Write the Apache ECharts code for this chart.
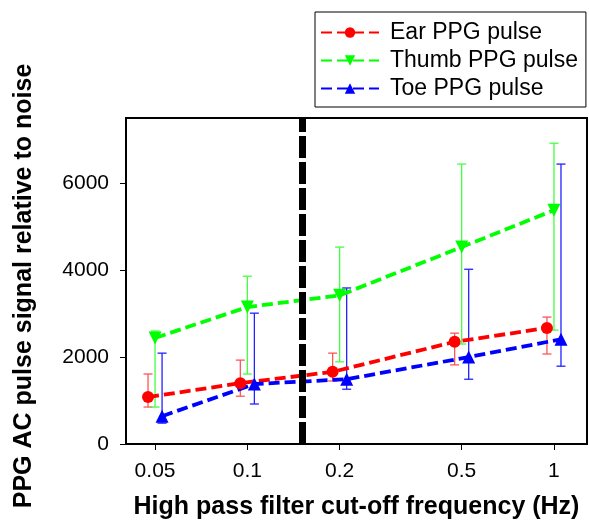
<!DOCTYPE html>
<html>
<head>
<meta charset="utf-8">
<script src="https://cdn.jsdelivr.net/npm/echarts@6/dist/echarts.min.js"></script>
<style>html,body{margin:0;padding:0;background:#fff;}#c{width:589px;height:525px;}</style>
</head>
<body>
<div id="c"></div>
<script>
// ---- data ----
const freqs = [0.05, 0.1, 0.2, 0.5, 1];
const tickLabels = ['0.05', '0.1', '0.2', '0.5', '1'];
const yTicks = [0, 2000, 4000, 6000];
const cutoff = 0.15;

const earMean = [1080, 1400, 1660, 2350, 2670];
const earLow  = [850, 1100, 1450, 1820, 2070];
const earHigh = [1610, 1930, 2090, 2550, 2920];

const thumbMean = [2440, 3150, 3420, 4530, 5380];
const thumbLow  = [850, 1610, 1890, 2300, 2620];
const thumbHigh = [2600, 3860, 4530, 6440, 6920];

const toeMean = [640, 1380, 1490, 2000, 2410];
const toeLow  = [480, 920, 1260, 1490, 1790];
const toeHigh = [2090, 3010, 3590, 4020, 6440];

const seriesNames = ['Ear PPG pulse', 'Thumb PPG pulse', 'Toe PPG pulse'];

// ---- styling ----
const FONT = "'Liberation Sans', Arial, Helvetica, sans-serif";
const colors = ['#ff0000', '#00ff00', '#0000ff'];
const errColors = ['#ff5555', '#44ff44', '#2222ff'];
const symbols = ['circle', 'path://M0,0 L10,0 L5,9 Z', 'triangle'];
const dodge = [-0.0229, 0, 0.0229]; // horizontal offset in log10 units
const L = Math.log10;

const means = [earMean, thumbMean, toeMean];
const lows = [earLow, thumbLow, toeLow];
const highs = [earHigh, thumbHigh, toeHigh];

const series = [];
for (let s = 0; s < 3; s++) {
  series.push({
    name: seriesNames[s] + ' err',
    type: 'custom',
    z: 1,
    data: freqs.map((f, i) => [L(f) + dodge[s], lows[s][i], highs[s][i]]),
    renderItem: (function (col) {
      return function (params, api) {
        const x = api.value(0);
        const p1 = api.coord([x, api.value(2)]);
        const p2 = api.coord([x, api.value(1)]);
        const w = 4.5;
        const st = { stroke: col, lineWidth: 1.3 };
        return {
          type: 'group',
          children: [
            { type: 'line', shape: { x1: p1[0], y1: p1[1], x2: p2[0], y2: p2[1] }, style: st },
            { type: 'line', shape: { x1: p1[0] - w, y1: p1[1], x2: p1[0] + w, y2: p1[1] }, style: st },
            { type: 'line', shape: { x1: p2[0] - w, y1: p2[1], x2: p2[0] + w, y2: p2[1] }, style: st }
          ]
        };
      };
    })(errColors[s]),
    silent: true
  });
}
for (let s = 0; s < 3; s++) {
  const ser = {
    name: seriesNames[s],
    type: 'line',
    z: 3,
    data: freqs.map((f, i) => [L(f) + dodge[s], means[s][i]]),
    symbol: symbols[s],
    symbolSize: s === 0 ? 12 : 13,
    showAllSymbol: true,
    color: colors[s],
    itemStyle: { color: colors[s] },
    lineStyle: { color: colors[s], width: 3.8, type: [11, 5] },
    animation: false
  };
  if (s === 0) {
    ser.markLine = {
      silent: true,
      symbol: ['none', 'none'],
      label: { show: false },
      lineStyle: { color: '#000', width: 7, type: [22, 4] },
      data: [{ xAxis: L(cutoff) }]
    };
  }
  series.push(ser);
}

const xMin = L(0.0402), xMax = L(1.2816);

const option = {
  animation: false,
  backgroundColor: '#fff',
  textStyle: { fontFamily: FONT },
  grid: { left: 126, right: 2, top: 118, bottom: 81, show: true, borderColor: '#000', borderWidth: 2, backgroundColor: 'transparent' },
  legend: {
    data: seriesNames,
    orient: 'vertical',
    left: 315,
    top: 12,
    padding: [9, 8, 7, 5],
    itemWidth: 58,
    itemHeight: 13,
    itemGap: 5,
    borderColor: '#000',
    borderWidth: 1,
    backgroundColor: '#fff',
    textStyle: { fontSize: 23, color: '#000', fontFamily: FONT, padding: [0, 0, 0, 6] }
  },
  xAxis: {
    type: 'value',
    min: xMin,
    max: xMax,
    name: 'High pass filter cut-off frequency (Hz)',
    nameLocation: 'middle',
    nameGap: 51,
    nameTextStyle: { fontSize: 25, fontWeight: 'bold', color: '#000', fontFamily: FONT },
    axisLine: { show: true, onZero: false, lineStyle: { color: '#000', width: 2 } },
    axisTick: { show: true, length: 6, lineStyle: { color: '#000', width: 1 }, customValues: freqs.map(L) },
    axisLabel: {
      fontSize: 21, color: '#000', margin: 17, fontFamily: FONT,
      customValues: freqs.map(L),
      formatter: function (v) {
        let best = 0, bd = 1e9;
        freqs.forEach((f, i) => { const d = Math.abs(L(f) - v); if (d < bd) { bd = d; best = i; } });
        return tickLabels[best];
      }
    },
    splitLine: { show: false }
  },
  yAxis: {
    type: 'value',
    min: 0,
    max: 7500,
    name: 'PPG AC pulse signal relative to noise',
    nameLocation: 'middle',
    nameRotate: 90,
    nameGap: 89,
    nameTextStyle: { fontSize: 25, fontWeight: 'bold', color: '#000', fontFamily: FONT, padding: [0, 10, 0, 0] },
    axisLine: { show: true, onZero: false, lineStyle: { color: '#000', width: 2 } },
    axisTick: { show: true, length: 6, lineStyle: { color: '#000', width: 1 }, customValues: yTicks },
    axisLabel: { fontSize: 21, color: '#000', margin: 17, fontFamily: FONT, customValues: yTicks, formatter: function (v) { return String(v); } },
    splitLine: { show: false }
  },
  series: series
};

const chart = echarts.init(document.getElementById('c'), null, { renderer: 'canvas' });
chart.setOption(option);
</script>
</body>
</html>
